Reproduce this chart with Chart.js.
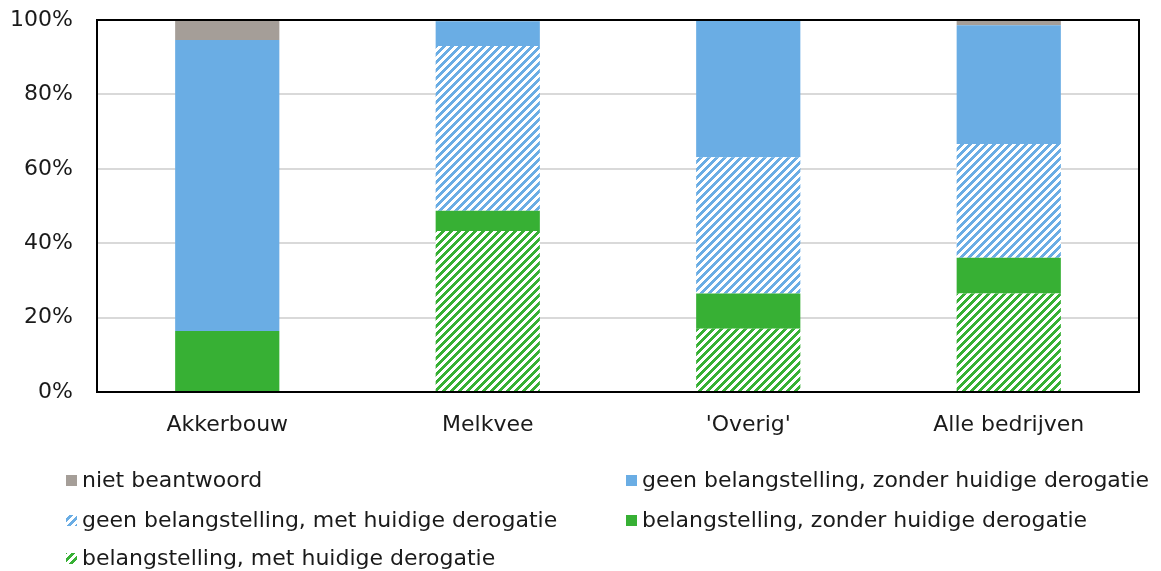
<!DOCTYPE html>
<html>
<head>
<meta charset="utf-8">
<script src="https://cdn.jsdelivr.net/npm/chart.js@4"></script>
<style>
  html, body { margin: 0; padding: 0; background: #fff; }
  #wrap { width: 1161px; height: 571px; }
</style>
</head>
<body>
<div id="wrap"><canvas id="myChart" width="1161" height="571"></canvas></div>
<script>
// categories and series (percent of farms), bottom of the stack first
const categories = ["Akkerbouw", "Melkvee", "'Overig'", "Alle bedrijven"];
const belangMet = [0, 43.3, 17.0, 26.5];
const belangZonder = [16.4, 5.4, 9.5, 9.6];
const geenMet = [0, 44.3, 36.6, 30.6];
const geenZonder = [78.2, 6.65, 36.9, 31.9];
const nietBeantwoord = [5.4, 0.35, 0, 1.4];
const yTicks = [0, 20, 40, 60, 80, 100];

const FONT = "'DejaVu Sans', Verdana, sans-serif";
const FS = 22;
const GREEN = '#37B034';
const BLUE = '#6AADE4';
const GRAY = '#A59E98';

// Excel-like upward diagonal hatch
function makeHatch(color) {
  var s = 8;
  var c = document.createElement('canvas');
  c.width = s; c.height = s;
  var ctx = c.getContext('2d');
  ctx.fillStyle = '#fff';
  ctx.fillRect(0, 0, s, s);
  ctx.fillStyle = color;
  for (var x = 0; x < s; x++) {
    for (var y = 0; y < s; y++) {
      if ((x + y) % s < s / 2) ctx.fillRect(x, y, 1, 1);
    }
  }
  return c;
}

const canvas = document.getElementById('myChart');
const ctx0 = canvas.getContext('2d');
const greenHatch = ctx0.createPattern(makeHatch(GREEN), 'repeat');
const blueHatch = ctx0.createPattern(makeHatch(BLUE), 'repeat');

const datasets = [
  { label: 'belangstelling, met huidige derogatie', data: belangMet, backgroundColor: greenHatch },
  { label: 'belangstelling, zonder huidige derogatie', data: belangZonder, backgroundColor: GREEN },
  { label: 'geen belangstelling, met huidige derogatie', data: geenMet, backgroundColor: blueHatch },
  { label: 'geen belangstelling, zonder huidige derogatie', data: geenZonder, backgroundColor: BLUE },
  { label: 'niet beantwoord', data: nietBeantwoord, backgroundColor: GRAY }
];

// legend order as in the picture: [datasetIndex, column, row]
const legendOrder = [[4, 0, 0], [3, 1, 0], [2, 0, 1], [1, 1, 1], [0, 0, 2]];

const frameAndLegend = {
  id: 'frameAndLegend',
  afterDatasetsDraw(chart) {
    var a = chart.chartArea, c = chart.ctx;
    c.save();
    c.strokeStyle = '#000';
    c.lineWidth = 2;
    c.strokeRect(a.left, a.top, a.right - a.left, a.bottom - a.top);
    c.restore();
  },
  afterDraw(chart) {
    var c = chart.ctx;
    var colX = [66, 626], rowY = [481, 521, 559];
    c.save();
    c.font = FS + 'px ' + FONT;
    c.textBaseline = 'middle';
    legendOrder.forEach(function (o) {
      var ds = chart.data.datasets[o[0]];
      var x = colX[o[1]], y = rowY[o[2]];
      c.fillStyle = ds.backgroundColor;
      c.fillRect(x, y - 6, 11, 11);
      c.fillStyle = '#1a1a1a';
      c.fillText(ds.label, x + 16, y);
    });
    c.restore();
  }
};

function noPad(s) {
  s.paddingTop = 0; s.paddingBottom = 0;
}

new Chart(canvas, {
  type: 'bar',
  data: { labels: categories, datasets: datasets },
  options: {
    responsive: false,
    animation: false,
    layout: { padding: { top: 20, right: 22, bottom: 119, left: 0 } },
    datasets: { bar: { categoryPercentage: 1, barPercentage: 0.4, borderWidth: 0 } },
    plugins: { legend: { display: false }, tooltip: { enabled: false } },
    scales: {
      x: {
        stacked: true,
        grid: { display: false, drawTicks: false },
        border: { color: '#000', width: 2 },
        ticks: { color: '#1a1a1a', padding: 20, font: { family: FONT, size: FS } },
        afterFit: function (s) { s.height = 60; noPad(s); }
      },
      y: {
        stacked: true,
        min: 0,
        max: 100,
        afterBuildTicks: function (s) { s.ticks = yTicks.map(function (v) { return { value: v }; }); },
        grid: { color: '#D9D9D9', lineWidth: 2, drawTicks: false },
        border: { color: '#000', width: 2 },
        ticks: {
          color: '#1a1a1a', padding: 24, font: { family: FONT, size: FS },
          callback: function (v) { return v + '%'; }
        },
        afterFit: function (s) { s.width = 97; noPad(s); }
      }
    }
  },
  plugins: [frameAndLegend]
});
</script>
</body>
</html>
